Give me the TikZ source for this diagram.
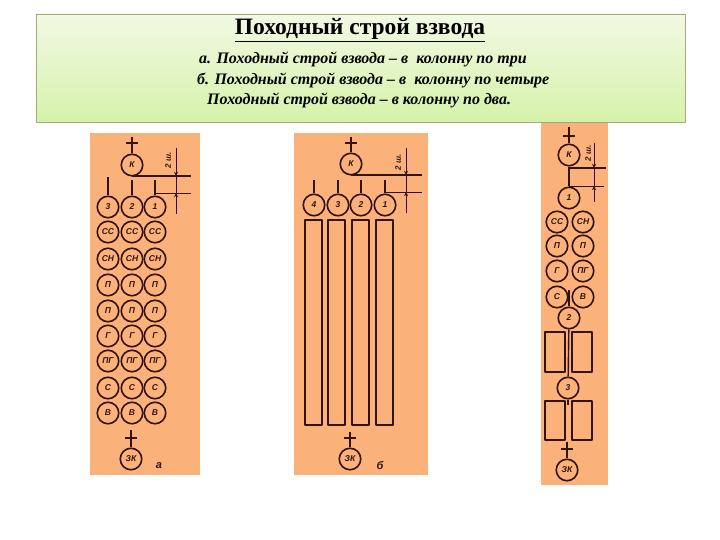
\documentclass[tikz,border=0pt]{standalone}
\usepackage{fontspec}
\setmainfont{Liberation Serif}
\setsansfont{Liberation Sans}
\definecolor{panelpeach}{HTML}{FAB27A}
\definecolor{inkbrown}{HTML}{34130F}
\definecolor{boxtop}{HTML}{F1F9E4}
\definecolor{boxbottom}{HTML}{D6F2A9}
\definecolor{boxedge}{HTML}{A3AC80}
\begin{document}
\begin{tikzpicture}[
  x=1pt,
  y=-1pt,
  line join=round,
  edge/.style={draw=inkbrown,line width=1.4pt},
  thin edge/.style={draw=inkbrown,line width=0.9pt},
  soldier/.style={circle,draw=inkbrown,line width=1.6pt,minimum size=21.5pt,inner sep=0pt,
    text=inkbrown,font=\sffamily\bfseries\itshape\fontsize{8.5}{9}\selectfont},
  lane/.style={draw=inkbrown,line width=1.4pt},
  panel/.style={fill=panelpeach},
  gaplabel/.style={rotate=90,text=inkbrown,inner sep=0pt,font=\sffamily\bfseries\itshape\fontsize{8}{9}\selectfont},
  panelmark/.style={text=inkbrown,inner sep=0pt,font=\sffamily\bfseries\itshape\fontsize{11}{11}\selectfont},
  caption/.style={anchor=base west,inner sep=0pt,font=\bfseries\itshape\fontsize{16}{18}\selectfont}
]
  \useasboundingbox (0,0) rectangle (720,540);

  % Orange sheets behind the three columns.
  \fill[panel] (90,133) rectangle (200,475);
  \fill[panel] (294,133) rectangle (428,475);
  \fill[panel] (541,122) rectangle (608,485);

  % Heading box.
  \shade[top color=boxtop,bottom color=boxbottom] (36,14) rectangle (685,122);
  \draw[boxedge,line width=0.8pt] (36,14) rectangle (685,122);
  \node[inner sep=0pt,anchor=base] (heading) at (360,35) {\bfseries\fontsize{23.5}{26}\selectfont\underline{Походный строй взвода}};
  \node[caption] (linea) at (199,64) {а. Походный строй взвода – в\ \ колонну по три};
  \node[caption] (lineb) at (197,85) {б. Походный строй взвода – в\ \ колонну по четыре};
  \node[caption] (linec) at (207,105) {Походный строй взвода – в колонну по два.};

  % Column of three.
  \node[soldier] (ka) at (132,165) {К};
  \node[soldier] (zka) at (131,459) {ЗК};
  \foreach \x/\n in {108/3,132/2,155/1} {
    \node[soldier] (a\n) at (\x,207) {\n};
    \coordinate (sa\n) at (\x,\ifnum\n=3 177\else 180\fi);
    \draw[edge] (sa\n) -- (a\n);
  }
  \foreach \y/\t/\r in {232/СС/1,259/СН/2,285/П/3,311/П/4,336/Г/5,361/ПГ/6,388/С/7,413/В/8} {
    \foreach \x/\c in {108/1,132/2,155/3} {
      \node[soldier] (a\r\c) at (\x,\y) {\t};
    }
  }
  \node[panelmark] (marka) at (159,466) {а};

  % Column of four.
  \node[soldier] (kb) at (351,164) {К};
  \node[soldier] (zkb) at (350,459) {ЗК};
  \foreach \x/\n in {314/4,338/3,361/2,385/1} {
    \node[soldier] (b\n) at (\x,205) {\n};
    \coordinate (sb\n) at (\x,180);
    \draw[edge] (sb\n) -- (b\n);
  }
  \foreach \x/\w in {305/322,328/345,352/369,376/393} {
    \draw[lane] (\x,220) rectangle (\w,425);
  }
  \node[panelmark] (markb) at (380,466) {б};

  % Column of two.
  \node[soldier] (kc) at (569,155) {К};
  \node[soldier] (c1) at (569,198) {1};
  \node[soldier] (c2) at (569,318) {2};
  \node[soldier] (c3) at (568,388) {3};
  \node[soldier] (zkc) at (567,470) {ЗК};
  \foreach \y/\t/\u/\r in {222/СС/СН/1,246/П/П/2,271/Г/ПГ/3,297/С/В/4} {
    \node[soldier] (cl\r) at (557,\y) {\t};
    \node[soldier] (cr\r) at (583,\y) {\u};
  }
  \foreach \x/\w in {545/565,572/592} {
    \draw[lane] (\x,332) rectangle (\w,372);
    \draw[lane] (\x,401) rectangle (\w,440);
  }
  \coordinate (sc2) at (569,290);
  \coordinate (sc3) at (568,405);
  \draw[edge] (kc) -- (c1);
  \draw[edge] (sc2) -- (c2);
  \draw[edge] (c2) -- (c3);
  \draw[edge] (c3) -- (sc3);

  % Commander crosses, front and rear.
  \foreach \k/\x/\t/\b in {ka/132/137/143,zka/131/430/438,kb/351/137/143,zkb/350/432/438,kc/569/127/136,zkc/567/442/449} {
    \coordinate (top\k) at (\x,\t);
    \draw[edge] (top\k) -- (\k);
    \draw[edge] (\x-6,\b) -- (\x+6,\b);
  }

  % Two-step distance marks.
  \foreach \k/\kx/\a/\ax/\e/\rx/\vx/\vt/\vb/\ya/\yb/\lx/\ly in {
    ka/132/a1/155/191/191/176/148/214/176/193/168/160,
    kb/351/b1/385/422/422/406/148/213/175/192/398/162,
    kc/569/c1/569/606/604/594/143/202/168/186/588/153} {
    \coordinate (kend\k) at (\e,\ya);
    \coordinate (kstart\k) at (\kx,\ya);
    \coordinate (rstart\k) at (\ax,\yb);
    \coordinate (rend\k) at (\rx,\yb);
    \coordinate (dtop\k) at (\vx,\vt);
    \coordinate (dbot\k) at (\vx,\vb);
    \coordinate (da\k) at (\vx,\ya);
    \coordinate (db\k) at (\vx,\yb);
    \draw[edge] (kstart\k) -- (kend\k);
    \draw[thin edge] (rstart\k) -- (rend\k);
    \draw[thin edge,-stealth] (dtop\k) -- (da\k);
    \draw[thin edge,-stealth] (dbot\k) -- (db\k);
    \draw[thin edge] (da\k) -- (db\k);
    \node[gaplabel] (gap\k) at (\lx,\ly) {2 ш.};
  }
\end{tikzpicture}
\end{document}
